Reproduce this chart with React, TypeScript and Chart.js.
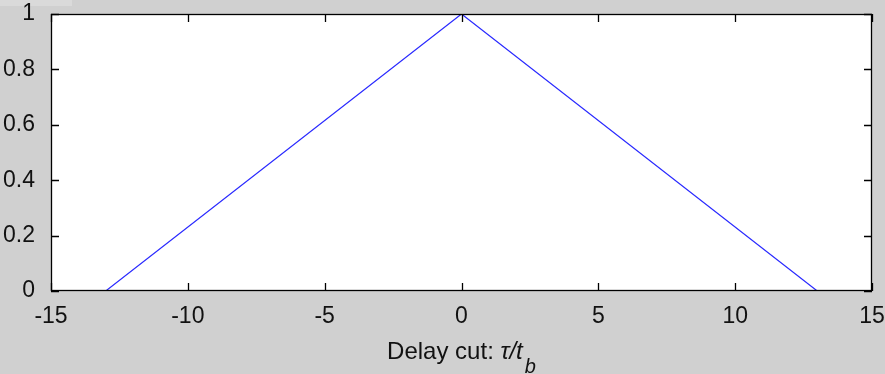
import React, { useEffect, useRef } from "react";
import { Chart, registerables } from "chart.js";

Chart.register(...registerables);

const xValues = [-13, 0, 13];
const yValues = [0, 1, 0];
const xTicks = [-15, -10, -5, 0, 5, 10, 15];
const yTicks = [0, 0.2, 0.4, 0.6, 0.8, 1];
const yTickLabels = ["0", "0.2", "0.4", "0.6", "0.8", "1"];
const xLabelMain = "Delay cut: ";
const xLabelSym = "\u03c4/t";
const xLabelSub = "b";

const FONT = "'Liberation Sans', Arial, sans-serif";
const BG = "#d0d0d0";

const framePlugin = {
  id: "frame",
  beforeDraw(chart: any) {
    const { ctx, chartArea: a, width, height } = chart;
    ctx.save();
    ctx.fillStyle = BG;
    ctx.fillRect(0, 0, width, height);
    ctx.fillStyle = "#dadada";
    ctx.fillRect(0, 0, 72, 6);
    ctx.fillStyle = "#ffffff";
    ctx.fillRect(a.left, a.top, a.right - a.left, a.bottom - a.top);
    ctx.restore();
  },
  afterDraw(chart: any) {
    const { ctx, chartArea: a, scales } = chart;
    const x = scales.x;
    const y = scales.y;
    ctx.save();
    ctx.strokeStyle = "#000";
    ctx.lineWidth = 1.3;
    ctx.strokeRect(a.left + 0.5, a.top + 0.5, a.right - a.left - 1, a.bottom - a.top - 1);
    const tl = 8;
    ctx.beginPath();
    xTicks.forEach((v) => {
      const px = Math.round(x.getPixelForValue(v)) + 0.5;
      ctx.moveTo(px, a.bottom);
      ctx.lineTo(px, a.bottom - tl);
      ctx.moveTo(px, a.top);
      ctx.lineTo(px, a.top + tl);
    });
    yTicks.forEach((v) => {
      const py = Math.round(y.getPixelForValue(v)) + 0.5;
      ctx.moveTo(a.left, py);
      ctx.lineTo(a.left + tl, py);
      ctx.moveTo(a.right, py);
      ctx.lineTo(a.right - tl, py);
    });
    ctx.stroke();

    // x axis label with subscript
    ctx.fillStyle = "#111";
    ctx.textBaseline = "alphabetic";
    ctx.textAlign = "left";
    const mainFont = `24px ${FONT}`;
    const symFont = `italic 24px ${FONT}`;
    const subFont = `italic 20px ${FONT}`;
    ctx.font = mainFont;
    const w1 = ctx.measureText(xLabelMain).width;
    ctx.font = symFont;
    const w2 = ctx.measureText(xLabelSym).width;
    ctx.font = subFont;
    const w3 = ctx.measureText(xLabelSub).width;
    const total = w1 + w2 + w3 + 2;
    let sx = (a.left + a.right) / 2 - total / 2;
    const base = 359;
    ctx.font = mainFont;
    ctx.fillText(xLabelMain, sx, base);
    sx += w1;
    ctx.font = symFont;
    ctx.fillText(xLabelSym, sx, base);
    sx += w2 + 2;
    ctx.font = subFont;
    ctx.fillText(xLabelSub, sx, base + 14);
    ctx.restore();
  },
};

export default function App() {
  const ref = useRef<HTMLCanvasElement | null>(null);
  useEffect(() => {
    document.body.style.margin = "0";
    const canvas = ref.current;
    if (!canvas) return;
    const chart = new Chart(canvas, {
      type: "line",
      data: {
        datasets: [
          {
            data: xValues.map((xv, i) => ({ x: xv, y: yValues[i] })),
            borderColor: "#2a2aff",
            borderWidth: 1.2,
            pointRadius: 0,
            fill: false,
            tension: 0,
          },
        ],
      },
      options: {
        responsive: false,
        animation: false,
        events: [],
        layout: { padding: { top: 14, right: 13, left: 0, bottom: 0 } },
        plugins: { legend: { display: false }, tooltip: { enabled: false } },
        scales: {
          x: {
            type: "linear",
            min: -15,
            max: 15,
            grid: { display: false },
            border: { display: false },
            afterBuildTicks: (s: any) => {
              s.ticks = xTicks.map((v) => ({ value: v }));
            },
            afterFit: (s: any) => {
              s.height = 83;
              s.paddingLeft = 0;
              s.paddingRight = 0;
            },
            ticks: {
              autoSkip: false,
              maxRotation: 0,
              padding: 4,
              color: "#111",
              font: { family: FONT, size: 23 },
              callback: (v: any) => String(v),
            },
          },
          y: {
            type: "linear",
            min: 0,
            max: 1,
            grid: { display: false },
            border: { display: false },
            afterBuildTicks: (s: any) => {
              s.ticks = yTicks.map((v) => ({ value: v }));
            },
            afterFit: (s: any) => {
              s.width = 51;
              s.paddingTop = 0;
              s.paddingBottom = 0;
            },
            ticks: {
              autoSkip: false,
              padding: 8,
              color: "#111",
              font: { family: FONT, size: 23 },
              callback: (v: any) => {
                const i = yTicks.indexOf(Number(v));
                return i >= 0 ? yTickLabels[i] : String(v);
              },
            },
          },
        },
      },
      plugins: [framePlugin],
    });
    return () => chart.destroy();
  }, []);
  return (
    <div style={{ width: 885, height: 374, background: BG }}>
      <canvas ref={ref} width={885} height={374} style={{ display: "block" }} />
    </div>
  );
}
